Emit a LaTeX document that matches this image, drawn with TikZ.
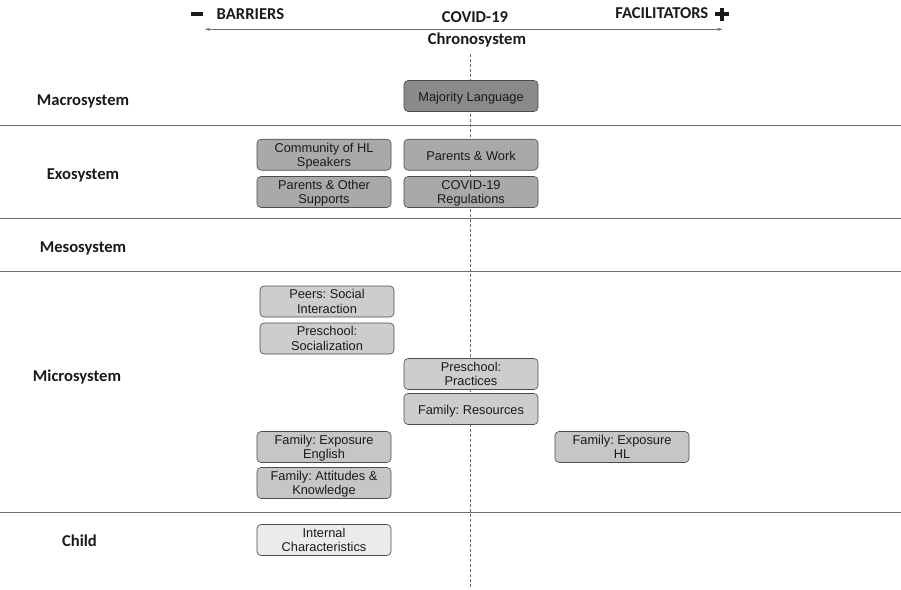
\documentclass[tikz,border=0pt]{standalone}
\usepackage{fontspec}
\setmainfont{Liberation Sans}
\newfontfamily\lblfont{Carlito}
\usetikzlibrary{arrows.meta}
\definecolor{macroC}{HTML}{8A8A8A}
\definecolor{exoC}{HTML}{A9A9A9}
\definecolor{microC}{HTML}{CDCDCD}
\definecolor{microD}{HTML}{C6C6C6}
\definecolor{childC}{HTML}{EBEBEB}
\definecolor{lineC}{HTML}{6E6E6E}
\definecolor{txtC}{HTML}{1A1A1A}
\frenchspacing
% box text: #1 = baseline offset of last line below box centre
\newcommand{\bxt}[2]{\raisebox{-#1}[0pt][0pt]{\begin{tabular}[b]{@{}c@{}}#2\end{tabular}}}
\newcommand{\bxone}[1]{\bxt{5.6pt}{#1}}
\newcommand{\bxtwo}[1]{\bxt{11.9pt}{#1}}
\begin{document}
\begin{tikzpicture}[x=1pt,y=-1pt,
  box/.style={draw=black!70, line width=0.6pt, rounded corners=4pt, minimum width=134pt, minimum height=31pt, inner sep=0pt, text=txtC, font=\fontsize{12.8}{14.5}\selectfont},
  lvl/.style={font=\lblfont\bfseries\fontsize{16.6}{19}\selectfont, text=txtC, inner sep=0pt, anchor=base},
  sep/.style={draw=lineC, line width=0.8pt}]
\useasboundingbox (0,0) rectangle (901,589);
% header
\node[lvl, anchor=base west] (barr) at (216.5,19) {BARRIERS};
\node[lvl, anchor=base east] (fac) at (708.5,18.5) {FACILITATORS};
\node[lvl] (covid) at (475,22.7) {COVID-19};
\node[lvl] (chrono) at (477,44) {Chronosystem};
\fill[txtC] (191,11.8) rectangle (203.3,15.6);
\fill[txtC] (715,12.3) rectangle (728.5,16.2);
\fill[txtC] (719.9,7.6) rectangle (723.6,20.8);
\coordinate (aL) at (205,29.3);
\coordinate (aR) at (722.5,29.3);
\draw[lineC, line width=0.6pt, {Stealth[length=5pt,width=3pt]}-{Stealth[length=5pt,width=3pt]}] (aL) -- (aR);
% dashed centre line
\coordinate (vT) at (470.5,54);
\coordinate (vB) at (470.5,589);
\draw[lineC, line width=0.7pt, dash pattern=on 3pt off 2pt] (vT) -- (vB);
% separators
\foreach \yy/\nm in {125/s1,218/s2,271/s3,512/s4}{
  \coordinate (\nm L) at (0,\yy); \coordinate (\nm R) at (901,\yy);
  \draw[sep] (\nm L) -- (\nm R);}
% level labels
\node[lvl] (macro) at (83,105) {Macrosystem};
\node[lvl] (exo) at (83,179) {Exosystem};
\node[lvl] (meso) at (83,252) {Mesosystem};
\node[lvl] (micro) at (77,381) {Microsystem};
\node[lvl] (child) at (79.5,546) {Child};
% boxes
\node[box, fill=macroC] (maj) at (471,96) {\bxone{Majority Language}};
\node[box, fill=exoC] (comm) at (324,154.7) {\bxtwo{Community of HL\\Speakers}};
\node[box, fill=exoC] (pwork) at (471,154.7) {\bxone{Parents \& Work}};
\node[box, fill=exoC] (pother) at (324,192) {\bxtwo{Parents \& Other\\Supports}};
\node[box, fill=exoC] (creg) at (471,192) {\bxtwo{COVID-19\\Regulations}};
\node[box, fill=microC] (peers) at (327,301.5) {\bxtwo{Peers: Social\\Interaction}};
\node[box, fill=microC] (psoc) at (327,338.5) {\bxtwo{Preschool:\\Socialization}};
\node[box, fill=microC] (pprac) at (471,374) {\bxtwo{Preschool:\\Practices}};
\node[box, fill=microC] (fres) at (471,409) {\bxone{Family: Resources}};
\node[box, fill=microD] (fexpe) at (324,447) {\bxtwo{Family: Exposure\\English}};
\node[box, fill=microD] (fatt) at (324,483) {\bxtwo{Family: Attitudes \&\\Knowledge}};
\node[box, fill=microD] (fexph) at (622,447) {\bxtwo{Family: Exposure\\HL}};
\node[box, fill=childC] (intc) at (324,540) {\bxtwo{Internal\\Characteristics}};
\end{tikzpicture}
\end{document}
